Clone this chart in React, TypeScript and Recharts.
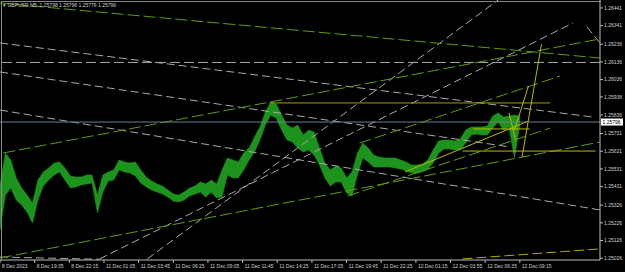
import React from 'react';
import { ComposedChart, Area, XAxis, YAxis, ReferenceLine } from 'recharts';

// GBPUSD M5 - one sample every 5 bars, [low, high]
const barStep = 5;
const highs = [
  1.25440, 1.25621, 1.25581, 1.25480, 1.25423, 1.25383, 1.25338, 1.25468, 1.25514, 1.25536,
  1.25564, 1.25570, 1.25536, 1.25491, 1.25485, 1.25485, 1.25497, 1.25497, 1.25383, 1.25497,
  1.25514, 1.25525, 1.25581, 1.25570, 1.25564, 1.25570, 1.25525, 1.25485, 1.25463, 1.25446,
  1.25434, 1.25412, 1.25389, 1.25383, 1.25400, 1.25423, 1.25434, 1.25457, 1.25446, 1.25468,
  1.25446, 1.25525, 1.25593, 1.25581, 1.25570, 1.25621, 1.25649, 1.25711, 1.25768, 1.25853,
  1.25909, 1.25898, 1.25836, 1.25779, 1.25762, 1.25779, 1.25723, 1.25751, 1.25740, 1.25649,
  1.25564, 1.25525, 1.25547, 1.25536, 1.25480, 1.25514, 1.25621, 1.25677, 1.25649, 1.25610,
  1.25598, 1.25593, 1.25593, 1.25593, 1.25581, 1.25570, 1.25553, 1.25553, 1.25559, 1.25581,
  1.25638, 1.25689, 1.25694, 1.25694, 1.25689, 1.25700, 1.25751, 1.25768, 1.25768, 1.25768,
  1.25774, 1.25830, 1.25847, 1.25824, 1.25830, 1.25836, 1.25830,
];
const lows = [
  1.25186, 1.25383, 1.25423, 1.25355, 1.25327, 1.25287, 1.25225, 1.25355, 1.25434, 1.25468,
  1.25497, 1.25514, 1.25468, 1.25423, 1.25429, 1.25440, 1.25446, 1.25451, 1.25282, 1.25400,
  1.25463, 1.25468, 1.25525, 1.25514, 1.25508, 1.25491, 1.25451, 1.25429, 1.25412, 1.25400,
  1.25389, 1.25372, 1.25350, 1.25344, 1.25355, 1.25378, 1.25389, 1.25400, 1.25372, 1.25400,
  1.25367, 1.25372, 1.25497, 1.25480, 1.25480, 1.25525, 1.25581, 1.25627, 1.25694, 1.25779,
  1.25836, 1.25819, 1.25751, 1.25694, 1.25683, 1.25649, 1.25627, 1.25638, 1.25610, 1.25553,
  1.25480, 1.25434, 1.25457, 1.25457, 1.25395, 1.25378, 1.25497, 1.25593, 1.25570, 1.25542,
  1.25542, 1.25542, 1.25542, 1.25536, 1.25530, 1.25519, 1.25508, 1.25508, 1.25514, 1.25530,
  1.25564, 1.25621, 1.25644, 1.25644, 1.25638, 1.25638, 1.25677, 1.25723, 1.25728, 1.25723,
  1.25723, 1.25762, 1.25796, 1.25751, 1.25768, 1.25593, 1.25785,
];

const lastPrice = 1.25796;
const titleText = 'GBPUSD,M5  1.25798 1.25798 1.25776 1.25796';

const timeLabels = [
  '8 Dec 2023', '8 Dec 19:35', '8 Dec 22:15', '11 Dec 01:05', '11 Dec 03:45', '11 Dec 06:25',
  '11 Dec 09:05', '11 Dec 11:45', '11 Dec 14:25', '11 Dec 17:05', '11 Dec 19:45', '11 Dec 22:25',
  '12 Dec 01:15', '12 Dec 03:55', '12 Dec 06:35', '12 Dec 09:15',
];
const barsPerLabel = 32;
const priceTicks = [
  1.25026, 1.25126, 1.25226, 1.25326, 1.25431, 1.25531, 1.25631, 1.25731,
  1.25836, 1.25938, 1.26036, 1.26136, 1.26236, 1.26341, 1.26441,
];

// drawn objects: [bar1, price1, bar2, price2]
const greenLines = [
  [0, 1.26469, 554, 1.26158],
  [3, 1.25621, 554, 1.26266],
  [0, 1.25027, 554, 1.25683],
  [332, 1.25677, 517, 1.26056],
  [321, 1.25378, 508, 1.25762],
];
const grayLines = [
  [0, 1.26243, 548, 1.25824],
  [0, 1.26079, 471, 1.25655],
  [0, 1.25864, 554, 1.25299],
  [0, 1.25033, 92, 1.25020],
  [92, 1.25022, 529, 1.26356],
  [136, 1.25022, 460, 1.26486],
  [542, 1.26333, 554, 1.26243],
];
const grayLevel = 1.26133;
const yellowLines = [
  [249, 1.25904, 508, 1.25904],
  [437, 1.25757, 489, 1.25757],
  [427, 1.25632, 550, 1.25632],
  [374, 1.25514, 488, 1.25802],
  [482, 1.25598, 500, 1.26238],
  [475, 1.25751, 488, 1.26000],
  [470, 1.25847, 476, 1.25694],
];
const yellowDashed = [[427, 1.25022, 552, 1.25078]];

const W = 625;
const H = 272;
const FONT = '"Liberation Sans", Arial, sans-serif';
const TXT = '#cfcfcf';

const data = highs.map((h, k) => ({ bar: k * barStep, range: [lows[k], h] }));

const XTick = (props: any) => {
  const { x, y, payload } = props;
  const idx = Math.round(payload.value / barsPerLabel);
  return (
    <text x={x + 2} y={y} dy="0.71em" fill={TXT} fontSize={5} fontFamily={FONT} textAnchor="start">
      {timeLabels[idx]}
    </text>
  );
};

const YTick = (props: any) => {
  const { x, y, payload } = props;
  return (
    <text x={x} y={y} dy="0.36em" fill={TXT} fontSize={5} fontFamily={FONT} textAnchor="start">
      {payload.value.toFixed(5)}
    </text>
  );
};

const PriceBox = (props: any) => {
  const vb = props.viewBox;
  const x0 = vb.x + vb.width + 1;
  return (
    <g>
      <rect x={x0} y={vb.y - 3.5} width={22} height={7} fill="#ffffff" />
      <text x={x0 + 1.5} y={vb.y} dy="0.36em" fill="#000" fontSize={5} fontFamily={FONT}>
        {lastPrice.toFixed(5)}
      </text>
    </g>
  );
};

const seg = (l: number[]) => [{ x: l[0], y: l[1] }, { x: l[2], y: l[3] }];

export default function App() {
  return (
    <div style={{ position: 'absolute', left: 0, top: 0, width: W, height: H, background: '#000', overflow: 'hidden' }}>
      <ComposedChart width={W} height={H} data={data} margin={{ top: 0, right: 0, bottom: 0, left: 0 }}>
        <XAxis
          dataKey="bar"
          type="number"
          domain={[0, 554]}
          ticks={timeLabels.map((_, i) => i * barsPerLabel)}
          interval={0}
          height={12}
          tickSize={3}
          tickMargin={1}
          stroke="#bdbdbd"
          tick={<XTick />}
          allowDataOverflow
        />
        <YAxis
          orientation="right"
          type="number"
          domain={[1.25016, 1.26486]}
          ticks={priceTicks}
          interval={0}
          width={25}
          tickSize={3}
          tickMargin={1}
          stroke="#bdbdbd"
          tick={<YTick />}
          allowDataOverflow
        />
        {grayLines.map((l, i) => (
          <ReferenceLine key={'g' + i} segment={seg(l)} stroke="#a9a9a9" strokeDasharray="8 4" ifOverflow="visible" />
        ))}
        <ReferenceLine y={grayLevel} stroke="#a9a9a9" strokeDasharray="10 4" />
        {greenLines.map((l, i) => (
          <ReferenceLine key={'n' + i} segment={seg(l)} stroke="#5f9d0c" strokeDasharray="12 4" ifOverflow="visible" />
        ))}
        {yellowLines.map((l, i) => (
          <ReferenceLine key={'y' + i} segment={seg(l)} stroke={i === 0 ? '#a39c00' : '#bcb800'} ifOverflow="visible" />
        ))}
        {yellowDashed.map((l, i) => (
          <ReferenceLine key={'d' + i} segment={seg(l)} stroke="#b0ac00" strokeDasharray="10 4" ifOverflow="visible" />
        ))}
        <Area
          dataKey="range"
          type="linear"
          stroke="#1c931c"
          strokeWidth={0.6}
          fill="#1c931c"
          fillOpacity={1}
          dot={false}
          activeDot={false}
          isAnimationActive={false}
        />
        <ReferenceLine y={lastPrice} stroke="#6e7f90" label={<PriceBox />} />
      </ComposedChart>
      <div style={{ position: 'absolute', left: 1, top: 1, width: 599, height: 259, borderTop: '1px solid #8a8a8a', borderLeft: '1px solid #8a8a8a', pointerEvents: 'none' }} />
      <div style={{ position: 'absolute', left: 3, top: 2, fontFamily: FONT, fontSize: 5, color: TXT, whiteSpace: 'pre', lineHeight: '6px' }}>
        {'\u25BE ' + titleText}
      </div>
    </div>
  );
}
